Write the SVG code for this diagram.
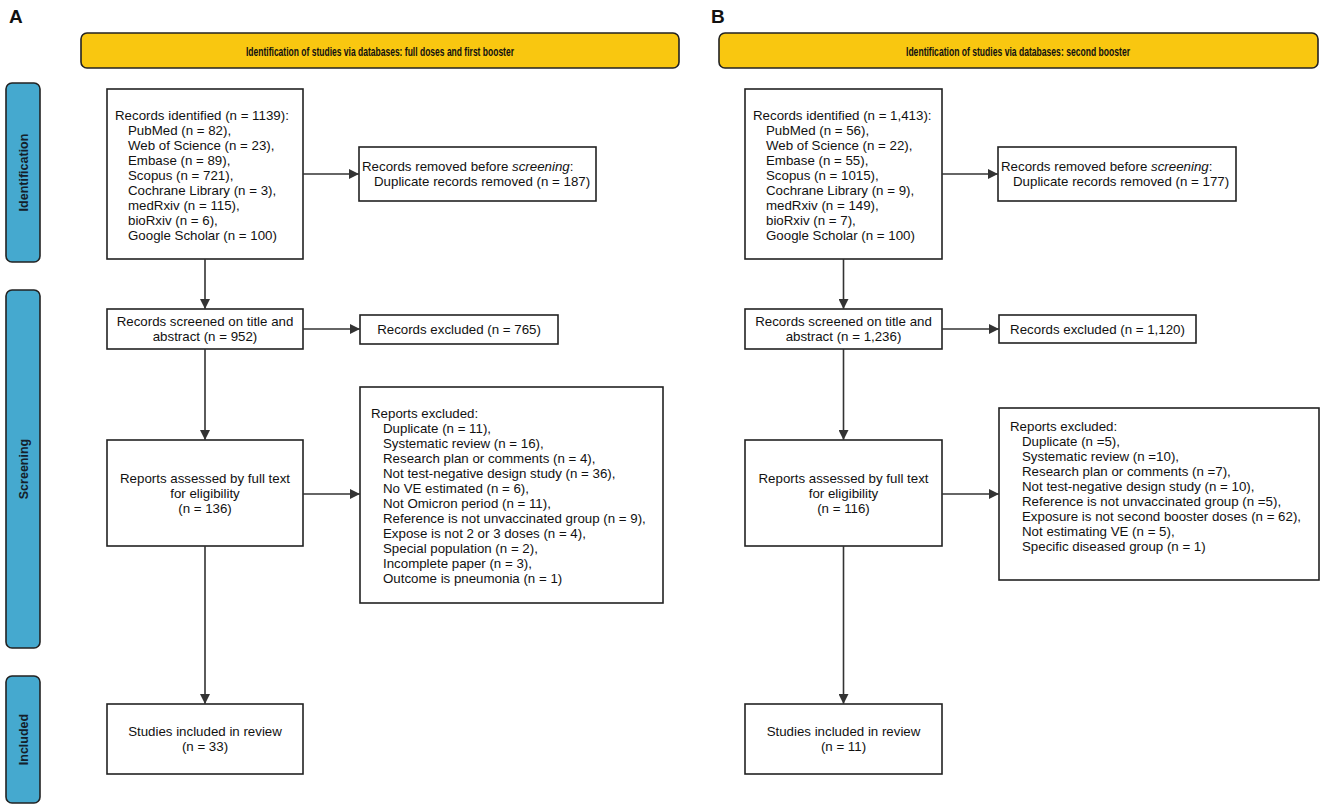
<svg xmlns="http://www.w3.org/2000/svg" width="1325" height="811" viewBox="0 0 1325 811">
<defs>
<style>
.bg{fill:#ffffff}
.box{fill:#ffffff;stroke:#222222;stroke-width:1.6}
.hdr{fill:#F9C710;stroke:#222222;stroke-width:1.6}
.side{fill:#45A9CF;stroke:#222222;stroke-width:1.6}
.t{font-family:"Liberation Sans",Arial,sans-serif;font-size:13.3px;fill:#111111}
.c{text-anchor:middle}
.ht{font-family:"Liberation Sans Narrow","Liberation Sans",Arial,sans-serif;font-size:13px;font-weight:bold;fill:#111111;text-anchor:middle}
.st{font-family:"Liberation Sans",Arial,sans-serif;font-size:12.5px;font-weight:bold;fill:#14202a;text-anchor:middle}
.pl{font-family:"Liberation Sans",Arial,sans-serif;font-size:19px;font-weight:bold;fill:#111111}
.ln{stroke:#333333;stroke-width:1.6;fill:none}
</style>
<marker id="ah" viewBox="0 0 10 10" refX="10" refY="5" markerWidth="10" markerHeight="10" markerUnits="userSpaceOnUse" orient="auto">
<path d="M0,0 L10,5 L0,10 Z" fill="#333333"/>
</marker>
</defs>
<rect class="bg" x="0" y="0" width="1325" height="811"/>

<text class="pl" x="9" y="23">A</text>
<text class="pl" x="711" y="23">B</text>

<g id="headerA">
<rect class="hdr" x="81" y="33" width="598" height="35" rx="6"/>
<text class="ht" x="380" y="55.5" textLength="268" lengthAdjust="spacingAndGlyphs">Identification of studies via databases: full doses and first booster</text>
</g>
<g id="headerB">
<rect class="hdr" x="719" y="33" width="599" height="35" rx="6"/>
<text class="ht" x="1018" y="55.5" textLength="224" lengthAdjust="spacingAndGlyphs">Identification of studies via databases: second booster</text>
</g>

<g id="side-identification">
<rect class="side" x="6" y="83" width="34" height="179" rx="6"/>
<text class="st" transform="translate(27.5,172.5) rotate(-90)">Identification</text>
</g>
<g id="side-screening">
<rect class="side" x="6" y="290" width="34" height="358" rx="6"/>
<text class="st" transform="translate(27.5,469) rotate(-90)">Screening</text>
</g>
<g id="side-included">
<rect class="side" x="6" y="676" width="34" height="127" rx="6"/>
<text class="st" transform="translate(27.5,739.5) rotate(-90)">Included</text>
</g>

<!-- Panel A -->
<g id="A-identified">
<rect class="box" x="107" y="89" width="196" height="170"/>
<text class="t" x="115" y="119.7">Records identified (n = 1139):</text>
<text class="t" x="128" y="134.7">PubMed (n = 82),</text>
<text class="t" x="128" y="149.7">Web of Science (n = 23),</text>
<text class="t" x="128" y="164.7">Embase (n = 89),</text>
<text class="t" x="128" y="179.7">Scopus (n = 721),</text>
<text class="t" x="128" y="194.7">Cochrane Library (n = 3),</text>
<text class="t" x="128" y="209.7">medRxiv (n = 115),</text>
<text class="t" x="128" y="224.7">bioRxiv (n = 6),</text>
<text class="t" x="128" y="239.7">Google Scholar (n = 100)</text>
</g>
<g id="A-removed">
<rect class="box" x="359" y="147" width="237" height="54"/>
<text class="t" x="362" y="171">Records removed before <tspan font-style="italic">screening</tspan>:</text>
<text class="t" x="374" y="186">Duplicate records removed (n = 187)</text>
</g>
<g id="A-screened">
<rect class="box" x="107" y="309" width="196" height="40"/>
<text class="t c" x="205" y="326">Records screened on title and</text>
<text class="t c" x="205" y="341">abstract (n = 952)</text>
</g>
<g id="A-excluded">
<rect class="box" x="360" y="315" width="198" height="29"/>
<text class="t c" x="459" y="334.2">Records excluded (n = 765)</text>
</g>
<g id="A-assessed">
<rect class="box" x="107" y="440" width="196" height="106"/>
<text class="t c" x="205" y="482.7">Reports assessed by full text</text>
<text class="t c" x="205" y="497.7">for eligibility</text>
<text class="t c" x="205" y="512.7">(n = 136)</text>
</g>
<g id="A-reports-excluded">
<rect class="box" x="360" y="387" width="303" height="216"/>
<text class="t" x="371" y="417.7">Reports excluded:</text>
<text class="t" x="383" y="432.7">Duplicate (n = 11),</text>
<text class="t" x="383" y="447.7">Systematic review (n = 16),</text>
<text class="t" x="383" y="462.7">Research plan or comments (n = 4),</text>
<text class="t" x="383" y="477.7">Not test-negative design study (n = 36),</text>
<text class="t" x="383" y="492.7">No VE estimated (n = 6),</text>
<text class="t" x="383" y="507.7">Not Omicron period (n = 11),</text>
<text class="t" x="383" y="522.7">Reference is not unvaccinated group (n = 9),</text>
<text class="t" x="383" y="537.7">Expose is not 2 or 3 doses (n = 4),</text>
<text class="t" x="383" y="552.7">Special population (n = 2),</text>
<text class="t" x="383" y="567.7">Incomplete paper (n = 3),</text>
<text class="t" x="383" y="582.7">Outcome is pneumonia (n = 1)</text>
</g>
<g id="A-included">
<rect class="box" x="107" y="704" width="196" height="70"/>
<text class="t c" x="205" y="736.2">Studies included in review</text>
<text class="t c" x="205" y="751.2">(n = 33)</text>
</g>

<!-- Panel B -->
<g id="B-identified">
<rect class="box" x="745" y="89" width="197" height="170"/>
<text class="t" x="753" y="119.7">Records identified (n = 1,413):</text>
<text class="t" x="766" y="134.7">PubMed (n = 56),</text>
<text class="t" x="766" y="149.7">Web of Science (n = 22),</text>
<text class="t" x="766" y="164.7">Embase (n = 55),</text>
<text class="t" x="766" y="179.7">Scopus (n = 1015),</text>
<text class="t" x="766" y="194.7">Cochrane Library (n = 9),</text>
<text class="t" x="766" y="209.7">medRxiv (n = 149),</text>
<text class="t" x="766" y="224.7">bioRxiv (n = 7),</text>
<text class="t" x="766" y="239.7">Google Scholar (n = 100)</text>
</g>
<g id="B-removed">
<rect class="box" x="998" y="147" width="238" height="54"/>
<text class="t" x="1001" y="171">Records removed before <tspan font-style="italic">screening</tspan>:</text>
<text class="t" x="1013" y="186">Duplicate records removed (n = 177)</text>
</g>
<g id="B-screened">
<rect class="box" x="745" y="309" width="197" height="40"/>
<text class="t c" x="843.5" y="326">Records screened on title and</text>
<text class="t c" x="843.5" y="341">abstract (n = 1,236)</text>
</g>
<g id="B-excluded">
<rect class="box" x="999" y="315" width="197" height="28"/>
<text class="t c" x="1097.5" y="333.7">Records excluded (n = 1,120)</text>
</g>
<g id="B-assessed">
<rect class="box" x="745" y="440" width="197" height="106"/>
<text class="t c" x="843.5" y="482.7">Reports assessed by full text</text>
<text class="t c" x="843.5" y="497.7">for eligibility</text>
<text class="t c" x="843.5" y="512.7">(n = 116)</text>
</g>
<g id="B-reports-excluded">
<rect class="box" x="999" y="408" width="320" height="172"/>
<text class="t" x="1010" y="430.7">Reports excluded:</text>
<text class="t" x="1022" y="445.7">Duplicate (n =5),</text>
<text class="t" x="1022" y="460.7">Systematic review (n =10),</text>
<text class="t" x="1022" y="475.7">Research plan or comments (n =7),</text>
<text class="t" x="1022" y="490.7">Not test-negative design study (n = 10),</text>
<text class="t" x="1022" y="505.7">Reference is not unvaccinated group (n =5),</text>
<text class="t" x="1022" y="520.7">Exposure is not second booster doses (n = 62),</text>
<text class="t" x="1022" y="535.7">Not estimating VE (n = 5),</text>
<text class="t" x="1022" y="550.7">Specific diseased group (n = 1)</text>
</g>
<g id="B-included">
<rect class="box" x="745" y="704" width="197" height="70"/>
<text class="t c" x="843.5" y="736.2">Studies included in review</text>
<text class="t c" x="843.5" y="751.2">(n = 11)</text>
</g>

<g id="connectors">
<line class="ln" x1="205" y1="259" x2="205" y2="309" marker-end="url(#ah)"/>
<line class="ln" x1="303" y1="174" x2="359" y2="174" marker-end="url(#ah)"/>
<line class="ln" x1="303" y1="329" x2="360" y2="329" marker-end="url(#ah)"/>
<line class="ln" x1="205" y1="349" x2="205" y2="440" marker-end="url(#ah)"/>
<line class="ln" x1="303" y1="494" x2="360" y2="494" marker-end="url(#ah)"/>
<line class="ln" x1="205" y1="546" x2="205" y2="704" marker-end="url(#ah)"/>
<line class="ln" x1="843.5" y1="259" x2="843.5" y2="309" marker-end="url(#ah)"/>
<line class="ln" x1="942" y1="174" x2="998" y2="174" marker-end="url(#ah)"/>
<line class="ln" x1="942" y1="329" x2="999" y2="329" marker-end="url(#ah)"/>
<line class="ln" x1="843.5" y1="349" x2="843.5" y2="440" marker-end="url(#ah)"/>
<line class="ln" x1="942" y1="494" x2="999" y2="494" marker-end="url(#ah)"/>
<line class="ln" x1="843.5" y1="546" x2="843.5" y2="704" marker-end="url(#ah)"/>
</g>
</svg>
